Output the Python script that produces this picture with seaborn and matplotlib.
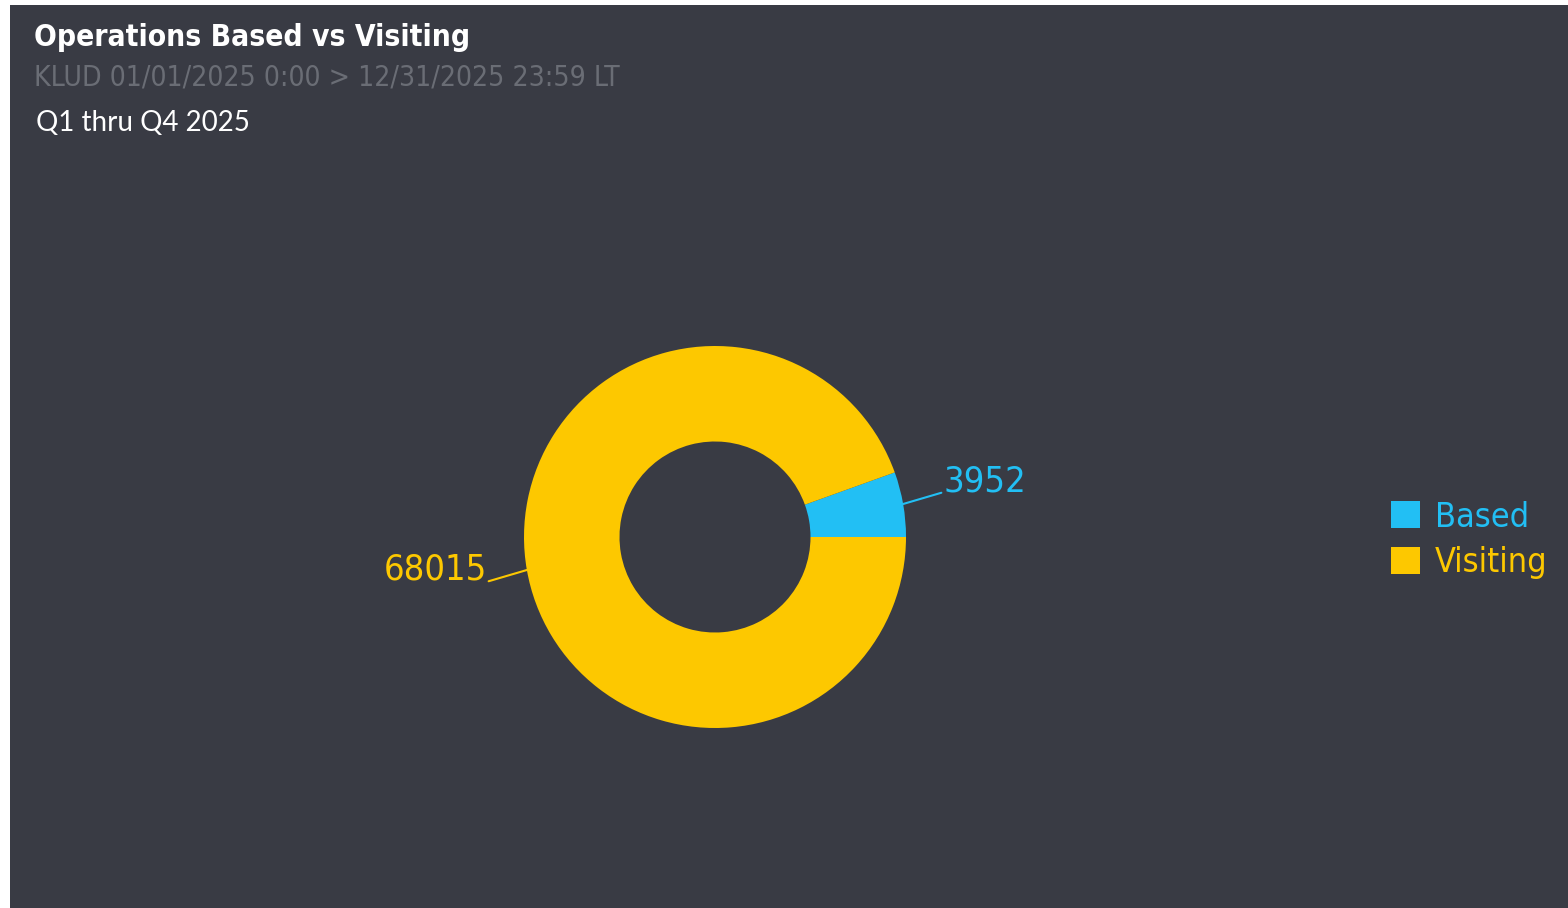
import numpy as np
import matplotlib
matplotlib.use("Agg")
import matplotlib.pyplot as plt
import matplotlib.patches as mpatches
import seaborn as sns

categories = ["Based", "Visiting"]
values = [3952, 68015]
title = "Operations Based vs Visiting"
subtitle = "KLUD 01/01/2025 0:00 > 12/31/2025 23:59 LT"
note = "Q1 thru Q4 2025"

BG = "#393b44"
colors = ["#22bff4", "#fdc800"]

sns.set_theme(style="dark", rc={"axes.facecolor": BG, "figure.facecolor": "white"})
plt.rcParams["font.family"] = ["DejaVu Sans"]
plt.rcParams["font.stretch"] = "condensed"

W, H = 1568, 908
fig = plt.figure(figsize=(W / 100, H / 100), dpi=100)

# dark panel (white margin at left/top like the screenshot)
panel = mpatches.Rectangle((10 / W, 0), 1 - 10 / W, 1 - 5 / H, transform=fig.transFigure,
                           facecolor=BG, edgecolor="none", zorder=-10)
fig.patches.append(panel)

cx, cy, r = 715, 537, 191
ax = fig.add_axes([(cx - r) / W, (H - cy - r) / H, 2 * r / W, 2 * r / H])
ax.set_zorder(5)
ax.patch.set_visible(False)

wedges, _ = ax.pie(values, colors=colors, startangle=0, counterclock=True, radius=1,
                   wedgeprops=dict(width=0.5, edgecolor="none"))
ax.set_xlim(-1, 1)
ax.set_ylim(-1, 1)
ax.set_aspect("equal")
ax.axis("off")

for w, v, c in zip(wedges, values, colors):
    ang = np.deg2rad((w.theta1 + w.theta2) / 2)
    x0, y0 = np.cos(ang), np.sin(ang)
    s = 1 if x0 >= 0 else -1
    x1, y1 = x0 + s * 0.2, y0 + s * 0.06
    ax.plot([x0 * 0.99, x1], [y0 * 0.99, y1], color=c, lw=1.5, clip_on=False)
    ax.text(x1 + s * 0.01, y1 + 0.06, str(v), color=c, fontsize=26,
            ha="left" if s > 0 else "right", va="center", clip_on=False)

fig.text(34 / W, 1 - 38 / H, title, color="white", fontsize=21.5, fontweight="bold",
         ha="left", va="center")
fig.text(34 / W, 1 - 78 / H, subtitle, color="#6a6d75", fontsize=20.3,
         ha="left", va="center")
fig.text(36 / W, 1 - 123 / H, note, color="white", fontsize=20, fontweight="normal",
         family=["Lato", "DejaVu Sans"], fontstretch="normal", ha="left", va="center")

handles = [mpatches.Patch(facecolor=c, edgecolor="none", label=l) for c, l in zip(colors, categories)]
leg = fig.legend(handles=handles, loc="center left", bbox_to_anchor=(1374 / W, 1 - 540 / H),
                 frameon=False, fontsize=24.5, handlelength=0.85, handleheight=0.85,
                 handletextpad=0.45, labelspacing=0.38, borderpad=0)
for t, c in zip(leg.get_texts(), colors):
    t.set_color(c)

fig.savefig("out.png", dpi=100)
